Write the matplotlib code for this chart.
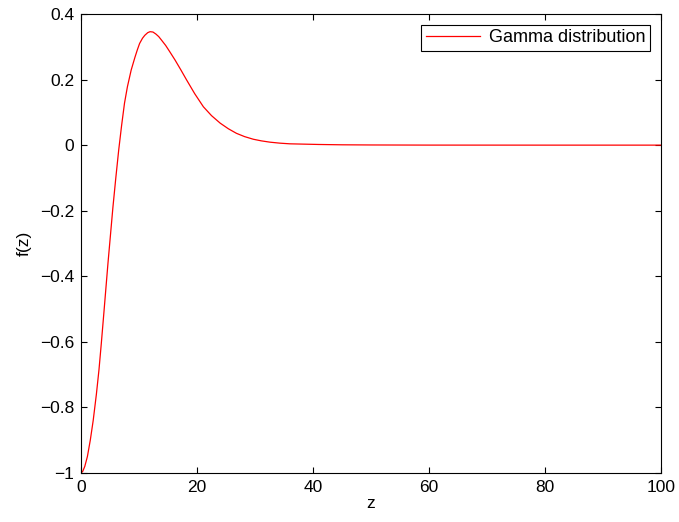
import matplotlib
matplotlib.use("Agg")
import matplotlib.pyplot as plt

plt.rcParams['font.family'] = ['Liberation Sans', 'DejaVu Sans']

# values
z = [0, 0.3, 0.65, 1.1, 1.6, 2.1, 2.65, 3.1, 3.5, 3.95, 4.3, 4.65, 5.1, 5.5,
     6.0, 6.5, 7.0, 7.5, 8.0, 8.65, 9.3, 9.7, 10.1, 10.6, 11.0, 11.5, 11.9,
     12.4, 12.9, 13.4, 13.85, 14.6, 15.3, 16.2, 17.2, 18.2, 19.6, 21.1, 22.5,
     24.0, 25.4, 26.8, 28.2, 29.7, 31.1, 32.6, 34.3, 36, 38.5, 41, 45, 50, 60,
     80, 100]
fz = [-1, -0.995, -0.98, -0.95, -0.9, -0.84, -0.76, -0.685, -0.605, -0.51,
      -0.435, -0.36, -0.27, -0.19, -0.1, -0.015, 0.06, 0.128, 0.178, 0.229,
      0.268, 0.29, 0.31, 0.326, 0.335, 0.343, 0.346, 0.345, 0.339, 0.331,
      0.321, 0.304, 0.285, 0.26, 0.23, 0.199, 0.157, 0.117, 0.09, 0.067,
      0.05, 0.036, 0.026, 0.018, 0.013, 0.009, 0.006, 0.004, 0.003, 0.002,
      0.001, 0.0005, 0.0001, 0, 0]

xticks = [0, 20, 40, 60, 80, 100]
yticks = [-1, -0.8, -0.6, -0.4, -0.2, 0, 0.2, 0.4]
ylabels = ['\u22121', '\u22120.8', '\u22120.6', '\u22120.4', '\u22120.2', '0', '0.2', '0.4']

fig = plt.figure(figsize=(6.79, 5.22), dpi=100)
ax = fig.add_axes([0.1193, 0.0939, 0.8542, 0.8793])
ax.plot(z, fz, color='red', linewidth=0.9, label='Gamma distribution')
ax.set_xlim(0, 100)
ax.set_ylim(-1, 0.4)
ax.set_xticks(xticks)
ax.set_yticks(yticks)
ax.set_yticklabels(ylabels)
ax.tick_params(direction='in', top=True, right=True, length=4, labelsize=12.5,
               width=0.8, pad=5)
for s in ax.spines.values():
    s.set_linewidth(0.8)
ax.set_xlabel('z', fontsize=12.5, labelpad=1)
ax.set_ylabel('f(z)', fontsize=12.5, labelpad=6)
leg = ax.legend(loc='upper right', fontsize=13, fancybox=False, framealpha=1,
                edgecolor='black', borderaxespad=0.6, handlelength=3.0,
                borderpad=0.25, handletextpad=0.5)
leg.get_frame().set_linewidth(0.8)

fig.savefig('out.png', dpi=100)
